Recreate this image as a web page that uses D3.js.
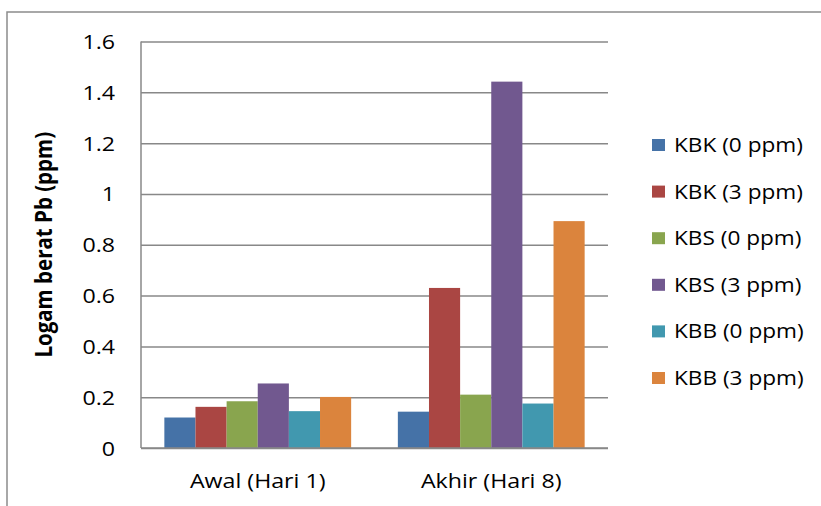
<!DOCTYPE html>
<html>
<head>
<meta charset="utf-8">
<script src="https://cdn.jsdelivr.net/npm/d3@7"></script>
<style>
  body { margin: 0; background: #fff; }
  text { font-family: "Open Sans", sans-serif; fill: #000; }
</style>
</head>
<body>
<svg id="chart" width="821" height="506"></svg>
<script>
// data
const categories = ["Awal (Hari 1)", "Akhir (Hari 8)"];
const series = ["KBK (0 ppm)", "KBK (3 ppm)", "KBS (0 ppm)", "KBS (3 ppm)", "KBB (0 ppm)", "KBB (3 ppm)"];
const awal = [0.12, 0.162, 0.184, 0.254, 0.145, 0.201];
const akhir = [0.143, 0.63, 0.21, 1.442, 0.175, 0.893];
const yTicks = [0, 0.2, 0.4, 0.6, 0.8, 1, 1.2, 1.4, 1.6];
const colors = ["#4572A7", "#AA4643", "#89A54E", "#71588F", "#4198AF", "#DB843D"];

const values = [awal, akhir];
const stretch = 1.16; // picture is a bit wide

const svg = d3.select("#chart");

// outer chart frame
svg.append("rect")
  .attr("x", 7).attr("y", 12)
  .attr("width", 830).attr("height", 520)
  .attr("fill", "#fff")
  .attr("stroke", "#8c8c8c")
  .attr("stroke-width", 1.5);

const plotL = 141, plotR = 608, plotT = 41.5, plotB = 448;

const x0 = d3.scaleBand()
  .domain(categories)
  .range([plotL, plotR])
  .paddingInner(0.2)
  .paddingOuter(0.1);

const x1 = d3.scaleBand()
  .domain(series)
  .range([0, x0.bandwidth()]);

const y = d3.scaleLinear()
  .domain([0, 1.6])
  .range([plotB, plotT]);

// gridlines + tick labels
const yAxis = d3.axisLeft(y)
  .tickValues(yTicks)
  .tickSize(-(plotR - plotL))
  .tickFormat(d => d3.format("~g")(d));

const gy = svg.append("g")
  .attr("transform", `translate(${plotL},0)`)
  .call(yAxis);
gy.select(".domain").remove();
gy.selectAll(".tick line")
  .attr("stroke", "#888")
  .attr("stroke-width", 1.5);
gy.selectAll(".tick text")
  .attr("x", -26 / stretch)
  .attr("dy", "0.35em")
  .attr("transform", `scale(${stretch},1)`)
  .style("font-size", "20px")
  .style("font-family", "'Open Sans', sans-serif")
  .attr("fill", "#000");

// bars
const groups = svg.append("g")
  .selectAll("g")
  .data(categories)
  .join("g")
  .attr("transform", d => `translate(${x0(d)},0)`);

groups.selectAll("rect")
  .data((d, i) => series.map((s, j) => ({ s, v: values[i][j], c: colors[j] })))
  .join("rect")
  .attr("x", d => x1(d.s))
  .attr("y", d => y(d.v))
  .attr("width", x1.bandwidth())
  .attr("height", d => y(0) - y(d.v))
  .attr("fill", d => d.c);

// axis lines
svg.append("line")
  .attr("x1", plotL).attr("x2", plotL)
  .attr("y1", plotT).attr("y2", plotB)
  .attr("stroke", "#888").attr("stroke-width", 1.5);
svg.append("line")
  .attr("x1", plotL).attr("x2", plotR)
  .attr("y1", plotB).attr("y2", plotB)
  .attr("stroke", "#888").attr("stroke-width", 1.5);

// category labels
svg.append("g")
  .selectAll("g")
  .data(categories)
  .join("g")
  .attr("transform", d => `translate(${x0(d) + x0.bandwidth() / 2},488) scale(${stretch},1)`)
  .append("text")
  .attr("text-anchor", "middle")
  .style("font-size", "20px")
  .text(d => d);

// y axis title
svg.append("text")
  .attr("transform", `translate(52,${(plotT + plotB) / 2}) scale(${stretch},1) rotate(-90)`)
  .attr("text-anchor", "middle")
  .style("font-size", "20.5px")
  .style("font-weight", "bold")
  .text("Logam berat Pb (ppm)");

// legend
const legend = svg.append("g")
  .selectAll("g")
  .data(series)
  .join("g")
  .attr("transform", (d, i) => `translate(652,${145 + i * 46.6})`);

legend.append("rect")
  .attr("x", 0).attr("y", -6)
  .attr("width", 13).attr("height", 12)
  .attr("fill", (d, i) => colors[i]);

legend.append("text")
  .attr("transform", `translate(22,0) scale(${stretch},1)`)
  .attr("dy", "0.36em")
  .style("font-size", "19.5px")
  .text(d => d);
</script>
</body>
</html>
